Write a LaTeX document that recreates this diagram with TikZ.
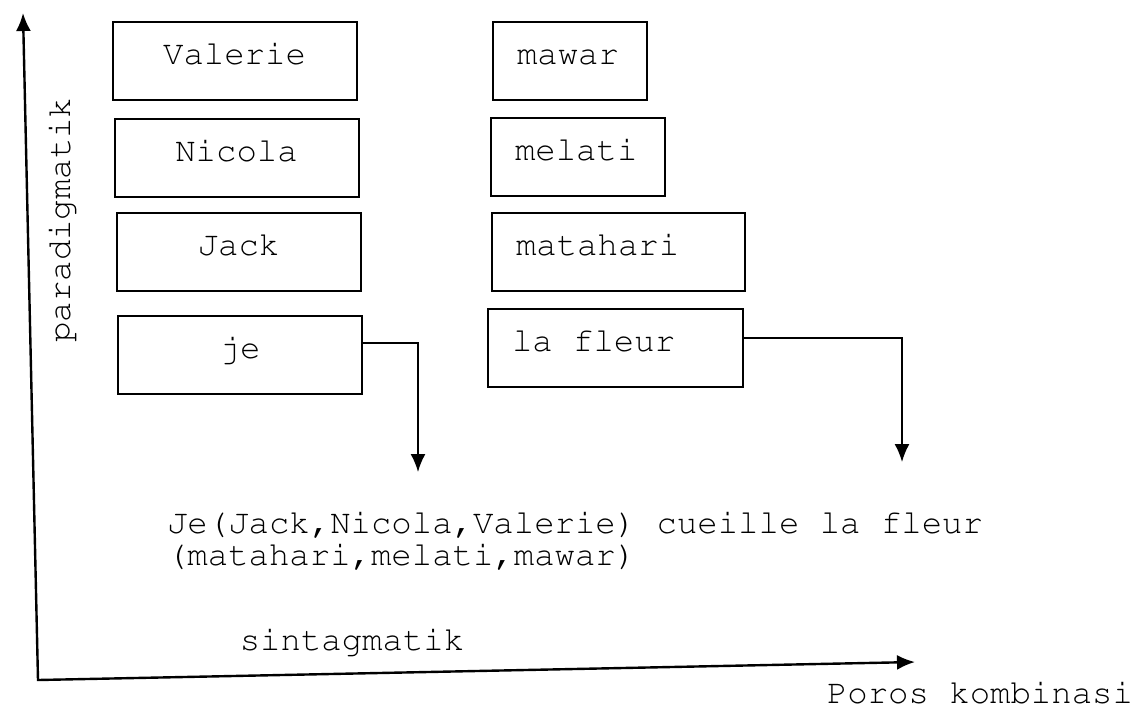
\documentclass[tikz,border=0pt]{standalone}
\usepackage[T1]{fontenc}
\usepackage{courier}
\renewcommand{\familydefault}{\ttdefault}
\usetikzlibrary{arrows.meta}

\begin{document}
\begin{tikzpicture}[x=0.5pt, y=-0.5pt,
  font=\fontsize{17}{16}\selectfont,
  word/.style={draw, line width=1pt, minimum width=122pt, minimum height=39pt,
    text height=11pt, text depth=7.5pt},
  flower/.style={word, minimum width=0pt, align=flush left, inner xsep=12pt},
  axis/.style={line width=1.2pt, {Latex[length=9pt,width=7.5pt]}-{Latex[length=9pt,width=7.5pt]}},
  link/.style={line width=0.9pt, -{Latex[length=9pt,width=7.5pt]}}]
\useasboundingbox (0,0) rectangle (1135,709);

% axes
\coordinate (origin) at (38,680);
\coordinate (ytop) at (23,13);
\coordinate (xend) at (915,662);
\draw[axis] (ytop) -- (origin) -- (xend);
\node[rotate=90, anchor=base] (para) at (70,220) {paradigmatik};
\node[anchor=base] (sinta) at (352,650) {sintagmatik};
\node[anchor=base] (poros) at (980,703) {Poros kombinasi};

% names
\node[word] (valerie) at (234.5,60.5) {Valerie};
\node[word] (nicola) at (236.5,157.5) {Nicola};
\node[word] (jack) at (238.5,252) {Jack};
\node[word] (je) at (240,354.5) {je};

% flowers
\node[flower, text width=53pt] (mawar) at (570,61) {mawar};
\node[flower, text width=63pt] (melati) at (578,157) {melati};
\node[flower, text width=102.5pt] (matahari) at (618.5,252) {matahari};
\node[flower, text width=103.5pt] (fleur) at (615.5,348) {la fleur};

% combination
\coordinate (jedown) at (418,472);
\coordinate (fleurdown) at (902,462);
\draw[link] ([yshift=5.75pt]je.east) -| (jedown);
\draw[link] ([yshift=5pt]fleur.east) -| (fleurdown);
\node[align=left, anchor=base west] (kalimat) at (160,565)
  {Je(Jack,Nicola,Valerie) cueille la fleur\\(matahari,melati,mawar)};

\end{tikzpicture}
\end{document}
